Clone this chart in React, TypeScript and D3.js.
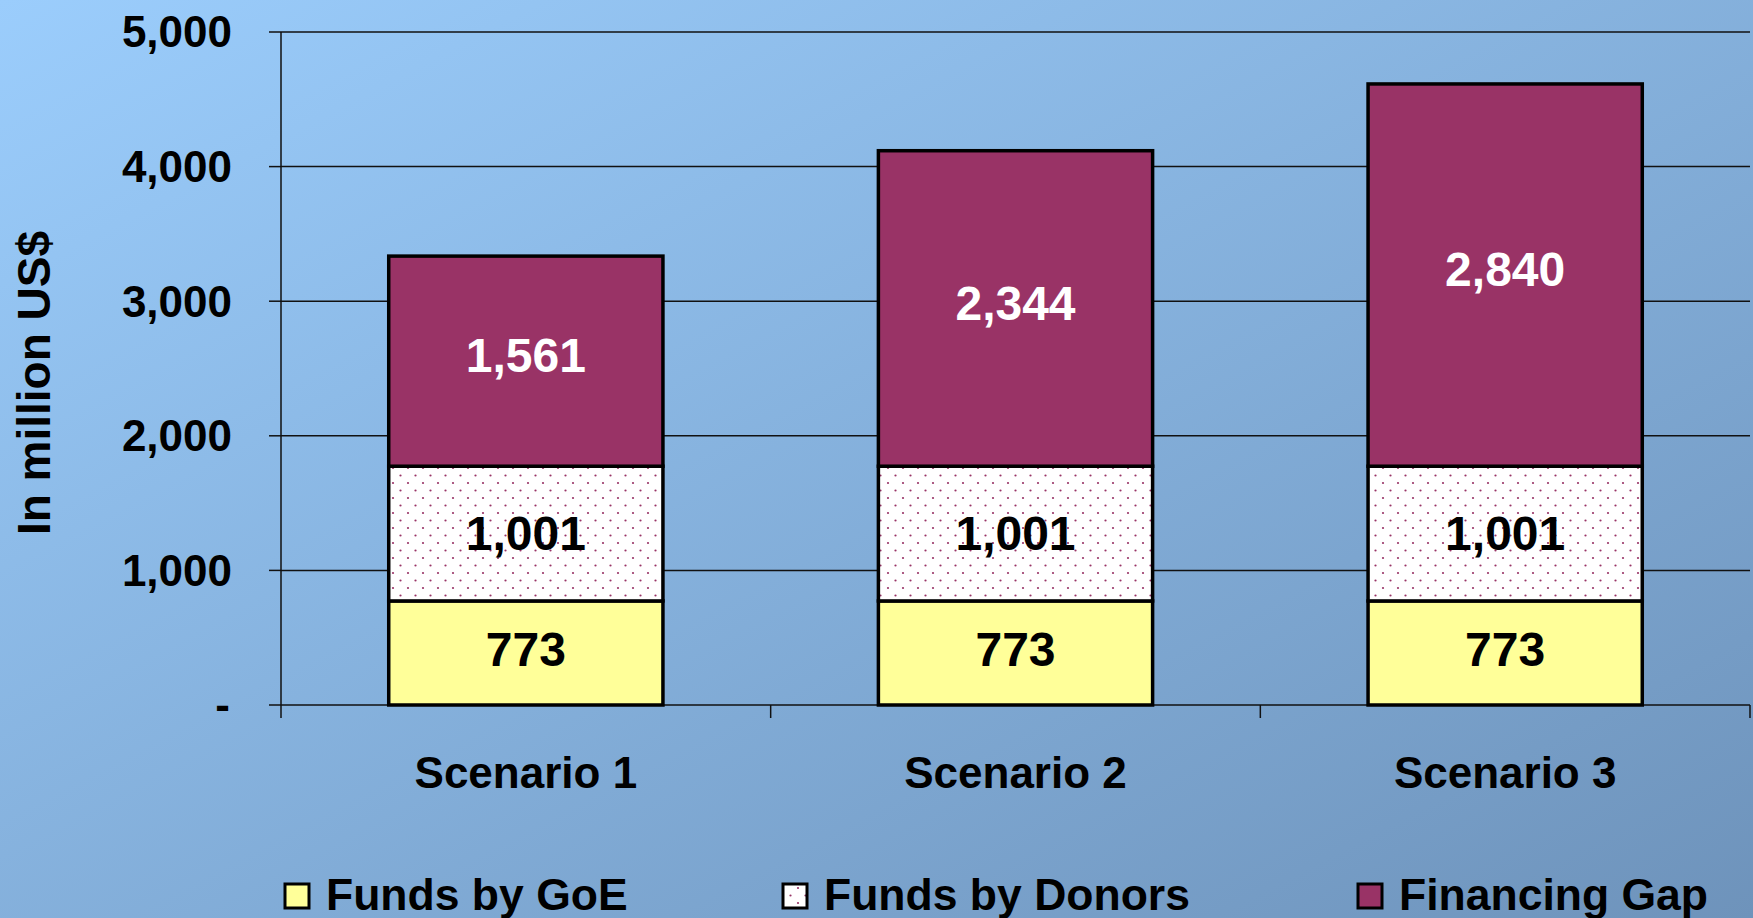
import React from "react";
import * as d3 from "d3";

const categories = ["Scenario 1", "Scenario 2", "Scenario 3"];
const fundsGoE = [773, 773, 773];
const fundsDonors = [1001, 1001, 1001];
const financingGap = [1561, 2344, 2840];
const yTicks = [0, 1000, 2000, 3000, 4000, 5000];
const seriesNames = ["Funds by GoE", "Funds by Donors", "Financing Gap"];

const W = 1753;
const H = 918;
const FONT = "'Liberation Sans', Arial, sans-serif";

export default function App() {
  const x = d3.scaleBand<string>().domain(categories).range([281, 1750]).paddingInner(0.44).paddingOuter(0.22);
  const y = d3.scaleLinear().domain([0, 5000]).range([705, 32]);

  const rows = categories.map((c, i) => ({ c, goe: fundsGoE[i], donors: fundsDonors[i], gap: financingGap[i] }));
  const stack = d3.stack<any>().keys(["goe", "donors", "gap"])(rows);
  const fills = ["#FFFF99", "url(#dots)", "#993366"];
  const labelColors = ["#000", "#000", "#fff"];
  const labelShift = [-4, -1, -6];
  const fmt = d3.format(",");

  const step = x.step();
  const catTicks = categories.map((_, i) => 281 + step * (i + 1));

  const legendX = [285, 783, 1358];

  return (
    <div style={{ position: "fixed", left: 0, top: 0 }}>
      <svg width={W} height={H} style={{ display: "block" }} fontFamily={FONT}>
        <defs>
          <linearGradient id="bg" x1="0" y1="0" x2="1" y2="1">
            <stop offset="0" stopColor="#9BCDFC" />
            <stop offset="1" stopColor="#6E93BB" />
          </linearGradient>
          <pattern id="dots" width="15" height="15" patternUnits="userSpaceOnUse">
            <rect width="15" height="15" fill="#fff" />
            <circle cx="3" cy="3" r="1.1" fill="#993366" />
            <circle cx="10.5" cy="10.5" r="1.1" fill="#993366" />
          </pattern>
        </defs>
        <rect width={W} height={H} fill="url(#bg)" />

        {yTicks.map((t) => (
          <g key={t}>
            {t > 0 && <line x1={281} x2={1750} y1={y(t)} y2={y(t)} stroke="#111" strokeWidth={1.5} />}
            <line x1={269} x2={281} y1={y(t)} y2={y(t)} stroke="#111" strokeWidth={1.5} />
            <text x={t === 0 ? 230 : 232} y={y(t)} dy="0.35em" textAnchor="end" fontSize={44} fontWeight="bold" fill="#000">
              {t === 0 ? "-" : fmt(t)}
            </text>
          </g>
        ))}
        <line x1={281} x2={281} y1={32} y2={718} stroke="#111" strokeWidth={1.5} />
        <line x1={281} x2={1750} y1={705} y2={705} stroke="#111" strokeWidth={1.5} />
        {catTicks.map((cx, i) => (
          <line key={i} x1={cx} x2={cx} y1={705} y2={718} stroke="#111" strokeWidth={1.5} />
        ))}

        {stack.map((s, si) =>
          s.map((d, i) => (
            <g key={`${si}-${i}`}>
              <rect
                x={x(categories[i])!}
                width={x.bandwidth()}
                y={y(d[1])}
                height={y(d[0]) - y(d[1])}
                fill={fills[si]}
                stroke="#000"
                strokeWidth={3.5}
              />
              <text
                x={x(categories[i])! + x.bandwidth() / 2}
                y={(y(d[0]) + y(d[1])) / 2 + labelShift[si]}
                dy="0.36em"
                textAnchor="middle"
                fontSize={48}
                fontWeight="bold"
                fill={labelColors[si]}
              >
                {fmt(d[1] - d[0])}
              </text>
            </g>
          ))
        )}

        {categories.map((c) => (
          <text key={c} x={x(c)! + x.bandwidth() / 2} y={788} textAnchor="middle" fontSize={44} fontWeight="bold" fill="#000">
            {c}
          </text>
        ))}

        <text transform="translate(50,383) rotate(-90)" textAnchor="middle" fontSize={46} fontWeight="bold" fill="#000">
          In million US$
        </text>

        {seriesNames.map((n, i) => (
          <g key={n}>
            <rect x={legendX[i]} y={884} width={24} height={24} fill={fills[i]} stroke="#000" strokeWidth={3} />
            <text x={legendX[i] + 41} y={910} fontSize={44.5} fontWeight="bold" fill="#000">
              {n}
            </text>
          </g>
        ))}
      </svg>
    </div>
  );
}
